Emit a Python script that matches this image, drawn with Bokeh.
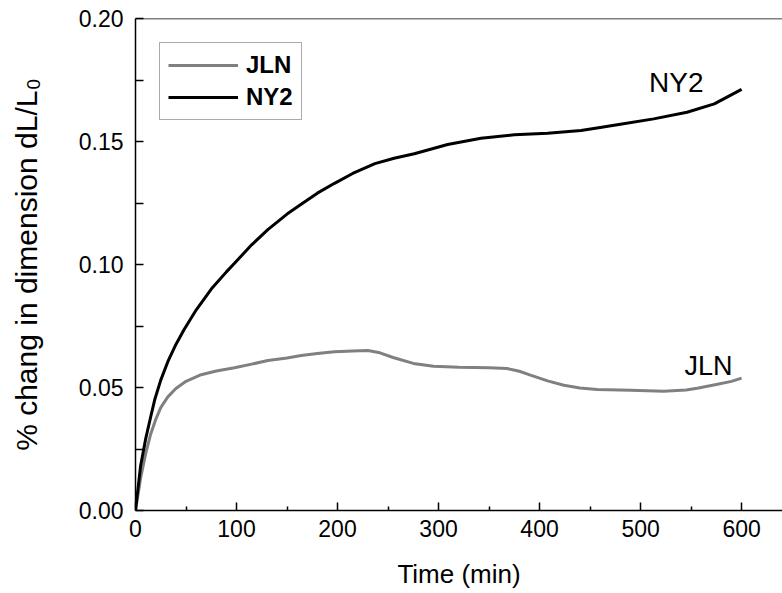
from bokeh.plotting import figure
from bokeh.models import FixedTicker, NumeralTickFormatter, Span, Range1d
from bokeh.core.properties import value
from bokeh.embed import file_html
from bokeh.resources import INLINE

# ---- data ----
ny2_time = [0, 5, 10, 15, 19, 25, 32, 40, 48, 60, 75, 90, 98, 115, 131, 150, 164, 180,
            197, 215, 237, 256, 276, 309, 342, 375, 408, 441, 460, 480, 513, 546, 573, 600]
ny2_val = [0.000, 0.018, 0.029, 0.038, 0.045, 0.053, 0.0605, 0.0675, 0.0735, 0.0815, 0.0900,
           0.0970, 0.1005, 0.1080, 0.1142, 0.1205, 0.1245, 0.1290, 0.1330, 0.1370, 0.1410,
           0.1432, 0.1450, 0.1488, 0.1513, 0.1527, 0.1534, 0.1545, 0.1557, 0.1570, 0.1592,
           0.1619, 0.1653, 0.1712]

jln_time = [0, 5, 10, 15, 20, 25, 32, 40, 50, 65, 80, 98, 115, 131, 150, 164, 180, 197,
            215, 230, 242, 255, 275, 295, 320, 350, 368, 380, 391, 408, 424, 440, 457,
            490, 523, 545, 556, 575, 590, 600]
jln_val = [0.000, 0.013, 0.023, 0.031, 0.037, 0.0418, 0.0462, 0.0496, 0.0525, 0.0552, 0.0567,
           0.0580, 0.0595, 0.0610, 0.0620, 0.0630, 0.0638, 0.0645, 0.0648, 0.0650, 0.0641,
           0.0622, 0.0598, 0.0586, 0.0582, 0.0580, 0.0577, 0.0566, 0.0550, 0.0527, 0.0509,
           0.0498, 0.0492, 0.0489, 0.0485, 0.0490, 0.0497, 0.0512, 0.0525, 0.0538]

series_names = ["JLN", "NY2"]
x_ticks = [0, 100, 200, 300, 400, 500, 600]
x_minor = [50, 150, 250, 350, 450, 550]
y_ticks = [0.0, 0.05, 0.10, 0.15, 0.20]
y_minor = [0.025, 0.075, 0.125, 0.175]

FONT = "Liberation Sans"

p = figure(width=782, height=593, output_backend="svg", toolbar_location=None,
           x_range=Range1d(0, 640.5), y_range=Range1d(0, 0.2),
           min_border_left=135, min_border_top=18, min_border_right=0, min_border_bottom=83)
p.xgrid.visible = False
p.ygrid.visible = False
p.outline_line_color = None
p.background_fill_color = "white"
p.border_fill_color = "white"

p.line(jln_time, jln_val, line_color="#808080", line_width=3, legend_label=series_names[0],
       line_join="round")
p.line(ny2_time, ny2_val, line_color="black", line_width=3, legend_label=series_names[1],
       line_join="round")

# end labels
p.text(x=[ny2_time[-1]], y=[ny2_val[-1]], text=[series_names[1]], x_offset=-38, y_offset=-7,
       text_align="right", text_baseline="alphabetic", text_font=value(FONT),
       text_font_size=value("28px"), text_color="black")
p.text(x=[jln_time[-1]], y=[jln_val[-1]], text=[series_names[0]], x_offset=-9, y_offset=-12,
       text_align="right", text_baseline="alphabetic", text_font=value(FONT),
       text_font_size=value("27px"), text_color="black")

# top frame line
p.add_layout(Span(location=0.2, dimension="width", line_color="black", line_width=1.5))

# axes
p.xaxis.ticker = FixedTicker(ticks=x_ticks, minor_ticks=x_minor)
p.yaxis.ticker = FixedTicker(ticks=y_ticks, minor_ticks=y_minor)
p.yaxis.formatter = NumeralTickFormatter(format="0.00")
for ax in (p.xaxis[0], p.yaxis[0]):
    ax.axis_line_color = "black"
    ax.axis_line_width = 1.5
    ax.major_tick_line_color = "black"
    ax.minor_tick_line_color = "black"
    ax.major_tick_line_width = 1.5
    ax.minor_tick_line_width = 1.5
    ax.major_tick_out = 0
    ax.minor_tick_out = 0
    ax.major_label_text_font = FONT
    ax.major_label_text_font_size = "23px"
    ax.major_label_text_color = "black"
    ax.axis_label_text_font = FONT
    ax.axis_label_text_font_style = "normal"
    ax.axis_label_text_color = "black"

p.xaxis.major_tick_in = 8
p.xaxis.minor_tick_in = 4
p.yaxis.major_tick_in = 8
p.yaxis.minor_tick_in = 8
p.xaxis.major_label_standoff = 9
p.yaxis.major_label_standoff = 12
p.xaxis.axis_label = "Time (min)"
p.xaxis.axis_label_text_font_size = "26px"
p.xaxis.axis_label_standoff = 19
p.yaxis.axis_label = "% chang in dimension dL/L\u2080"
p.yaxis.axis_label_text_font_size = "30px"
p.yaxis.axis_label_standoff = 33

# legend
lg = p.legend[0]
lg.location = "top_left"
lg.margin = 24
lg.padding = 8
lg.spacing = 4
lg.glyph_width = 70
lg.glyph_height = 24
lg.label_standoff = 8
lg.label_text_font = FONT
lg.label_text_font_size = "24px"
lg.label_text_font_style = "bold"
lg.label_text_color = "black"
lg.border_line_color = "#555555"
lg.border_line_width = 1
lg.background_fill_alpha = 1.0

open("out.html", "w").write(file_html(p, INLINE))
